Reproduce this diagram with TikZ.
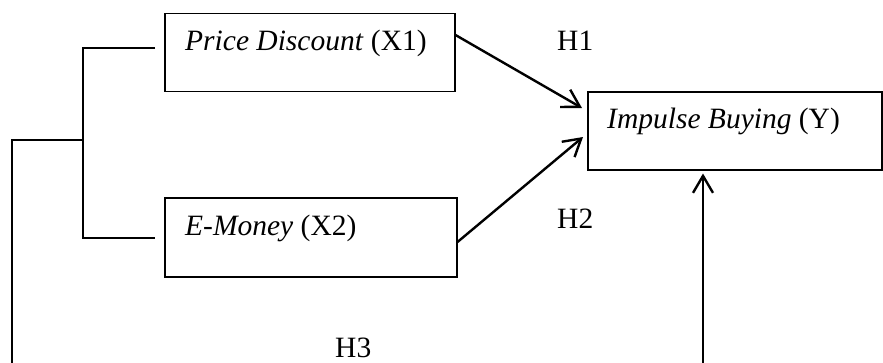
\documentclass[tikz,border=0pt]{standalone}
\usepackage{fontspec}
\setmainfont{Liberation Serif}
\usetikzlibrary{arrows.meta,calc}
\begin{document}
\begin{tikzpicture}[x=1pt,y=-1pt,
  box/.style={draw, line width=1.5pt, inner sep=0pt, anchor=north west},
  lbl/.style={anchor=base west, inner sep=0pt, font=\fontsize{29.5}{35}\selectfont},
  arr/.style={line width=2.4pt, -{Straight Barb[length=17pt,width=20pt]}},
  thinline/.style={line width=1.1pt}]
\useasboundingbox (0,0) rectangle (883,362);
% boxes
\node[box, minimum width=290pt, minimum height=78pt] (b1) at (164,12.5) {};
\node[box, minimum width=292pt, minimum height=79pt] (b2) at (164,197) {};
\node[box, minimum width=294pt, minimum height=78pt] (by) at (587,91) {};
% texts
\node[lbl] (t1) at (185,50) {\textit{Price Discount} (X1)};
\node[lbl] (t2) at (185,235) {\textit{E-Money} (X2)};
\node[lbl] (ty) at (607,128) {\textit{Impulse Buying} (Y)};
\node[lbl] (h1) at (557,50) {H1};
\node[lbl] (h2) at (557,228) {H2};
\node[lbl] (h3) at (335,357) {H3};
% arrows
\draw[arr] ($(b1.north east)+(0,22.5)$) -- ($(by.north west)+(-5,17)$);
\draw[arr] ($(b2.north east)+(0,45)$) -- ($(by.north west)+(-4,46)$);
\coordinate (bot2) at (703,363);
\draw[arr] (bot2) -- ($(by.south west)+(116,3)$);
% bracket
\coordinate (e1) at (155,48);
\coordinate (e2) at (155,238);
\coordinate (m) at (83,140);
\coordinate (lft) at (12,140);
\coordinate (bot1) at (12,363);
\draw[thinline] (e1) -| (m) |- (e2);
\draw[thinline] (m) -- (lft) -- (bot1);
\end{tikzpicture}
\end{document}
